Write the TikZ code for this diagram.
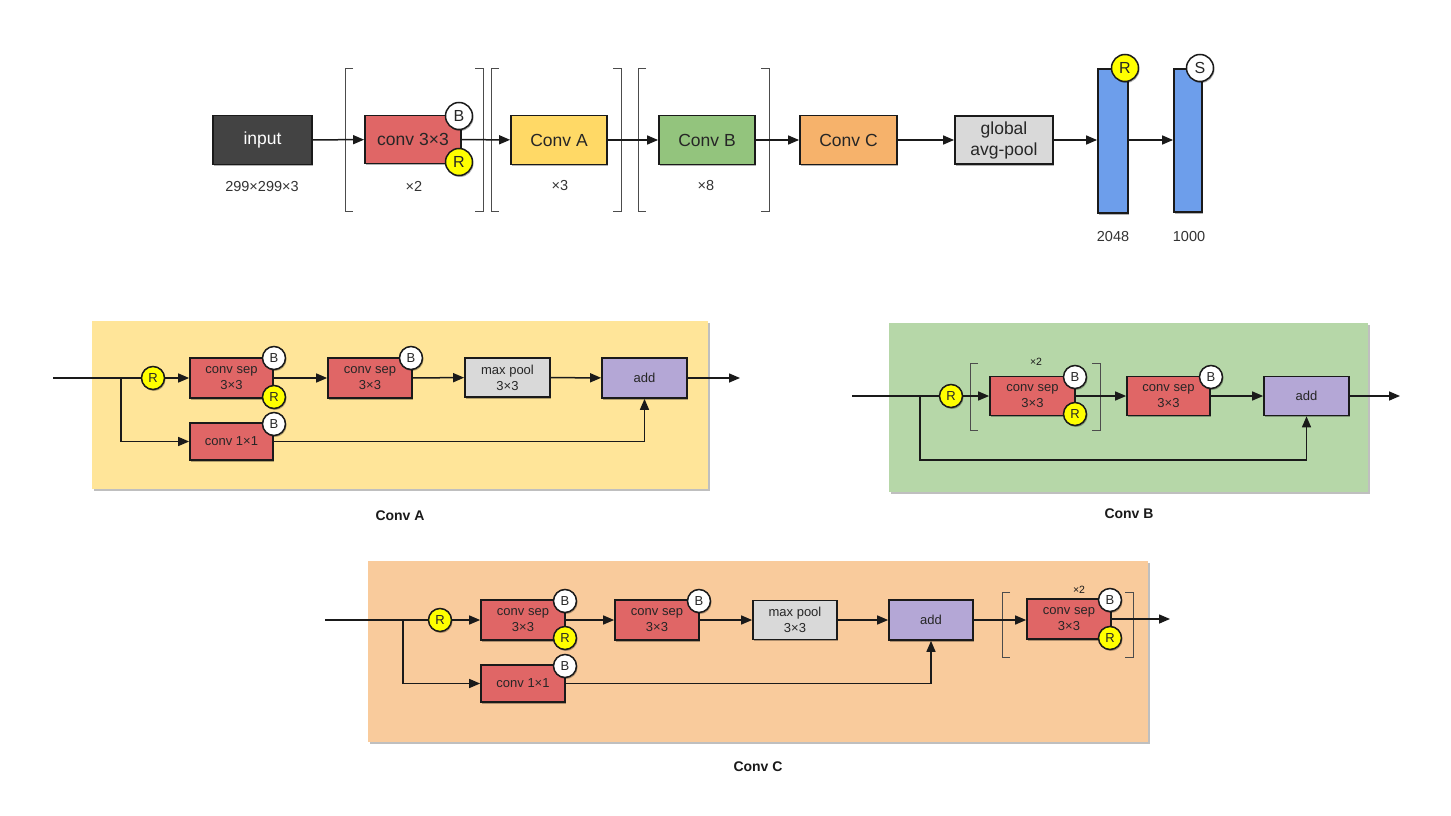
\documentclass[tikz,border=0pt]{standalone}
\usepackage{fontspec}
\setmainfont{Liberation Sans}
\usetikzlibrary{arrows.meta,shadows,calc}
\definecolor{cinput}{HTML}{434343}
\definecolor{cred}{HTML}{E06666}
\definecolor{cya}{HTML}{FFD966}
\definecolor{cgb}{HTML}{93C47D}
\definecolor{coc}{HTML}{F6B26B}
\definecolor{cgray}{HTML}{D9D9D9}
\definecolor{cblue}{HTML}{6D9EEB}
\definecolor{cpurp}{HTML}{B4A7D6}
\definecolor{cyel}{HTML}{FFFF00}
\definecolor{pA}{HTML}{FFE599}
\definecolor{pB}{HTML}{B6D7A8}
\definecolor{pC}{HTML}{F9CB9C}
\definecolor{ink}{HTML}{1A1A1A}
\definecolor{txt}{HTML}{262626}
\tikzset{
  shad/.style={drop shadow={shadow xshift=1pt, shadow yshift=-1.5pt, opacity=0.3, fill=black}},
  box/.style={draw=ink, line width=1.7pt, text=txt, align=center, inner sep=0pt,
     font=\fontsize{13}{16}\selectfont, shad},
  big/.style={box, line width=1.8pt, font=\fontsize{17.5}{21}\selectfont},
  circ/.style={circle, draw=ink, line width=1.5pt, inner sep=0pt, text=txt, shad},
  rc/.style={circ, fill=cyel},
  bc/.style={circ, fill=white},
  topc/.style={minimum size=27pt, font=\fontsize{16}{16}\selectfont},
  smc/.style={minimum size=23pt, font=\fontsize{13}{13}\selectfont},
  arr/.style={-{Triangle[length=11pt,width=9pt]}, line width=1.5pt, draw=ink},
  ln/.style={line width=1.5pt, draw=ink},
  brk/.style={draw=black!70, line width=0.9pt},
  lbl/.style={text=black!80, inner sep=0pt, font=\fontsize{14.5}{16}\selectfont},
  slbl/.style={text=ink, inner sep=0pt, font=\fontsize{10.5}{12}\selectfont},
  panel/.style={inner sep=0pt, drop shadow={shadow xshift=1.5pt, shadow yshift=-2pt, opacity=0.25, fill=black}},
  ttl/.style={text=ink, inner sep=0pt, font=\bfseries\fontsize{14}{16}\selectfont}
}
\begin{document}
\begin{tikzpicture}[x=1pt,y=-1pt]
\useasboundingbox (0,0) rectangle (1451,816);
\fill[white] (0,0) rectangle (1451,816);

% ---------------- top row ----------------
\node[big, fill=cinput, text=white, minimum width=99, minimum height=49] (input) at (262.5,140) {input};
\node[big, fill=cred, minimum width=96, minimum height=48] (conv3) at (413,139.5) {conv 3×3};
\node[big, fill=cya, minimum width=96, minimum height=49] (convA) at (559,140) {Conv A};
\node[big, fill=cgb, minimum width=96, minimum height=49] (convB) at (707,140) {Conv B};
\node[big, fill=coc, minimum width=97, minimum height=49] (convC) at (848.5,140) {Conv C};
\node[big, fill=cgray, minimum width=98, minimum height=48] (gap) at (1004,140) {global\\avg-pool};
\node[box, line width=1.8pt, fill=cblue, minimum width=30, minimum height=144] (fc1) at (1113,141) {};
\node[box, line width=1.8pt, fill=cblue, minimum width=28, minimum height=143] (fc2) at (1188,140.5) {};

\node[bc, topc] (c3B) at (459,116) {B};
\node[rc, topc] (c3R) at (459,162) {R};
\node[rc, topc] (fc1R) at (1125,68) {R};
\node[bc, topc] (fc2S) at (1200,68) {S};

\node[lbl] (lin) at (262,187) {299×299×3};
\node[lbl] (l2) at (414,186) {×2};
\node[lbl] (l3) at (560,186) {×3};
\node[lbl] (l8) at (706,186) {×8};
\node[lbl] (l2048) at (1113,237) {2048};
\node[lbl] (l1000) at (1189,237) {1000};

\draw[brk] (353,68) -- (345,68) -- (345,211) -- (353,211);
\draw[brk] (475,68) -- (483,68) -- (483,211) -- (475,211);
\draw[brk] (499,68) -- (491,68) -- (491,211) -- (499,211);
\draw[brk] (613,68) -- (621,68) -- (621,211) -- (613,211);
\draw[brk] (646,68) -- (638,68) -- (638,211) -- (646,211);
\draw[brk] (761,68) -- (769,68) -- (769,211) -- (761,211);

\draw[arr] (input) -- (conv3);
\draw[arr] (conv3) -- (convA);
\draw[arr] (convA) -- (convB);
\draw[arr] (convB) -- (convC);
\draw[arr] (convC) -- (gap);
\draw[arr] (gap.east) -- (gap.east -| fc1.west);
\draw[arr] (fc1.east |- gap.east) -- (fc2.west |- gap.east);

% ---------------- Conv A ----------------
\node[panel, fill=pA, minimum width=616, minimum height=168] (pa) at (400,405) {};
\node[ttl] (ta) at (400,516) {Conv A};
\coordinate (Ain) at (53,378);
\coordinate (Abr) at (121,378);
\coordinate (Aout) at (740,378);
\node[rc, smc] (Ar) at (153,378) {R};
\node[box, fill=cred, minimum width=83, minimum height=40] (As1) at (231.5,378) {conv sep\\3×3};
\node[box, fill=cred, minimum width=84, minimum height=40] (As2) at (370,378) {conv sep\\3×3};
\node[box, fill=cgray, minimum width=85, minimum height=39] (Amp) at (507.5,377.5) {max pool\\3×3};
\node[box, fill=cpurp, minimum width=85, minimum height=40] (Aadd) at (644.5,378) {add};
\node[box, fill=cred, minimum width=83, minimum height=37] (Ac1) at (231.5,441.5) {conv 1×1};
\draw[ln] (Ain) -- (Ar);
\draw[arr] (Ar) -- (As1);
\draw[arr] (As1) -- (As2);
\draw[arr] (As2) -- (Amp);
\draw[arr] (Amp) -- (Aadd);
\draw[arr] (Aadd) -- (Aout);
\draw[arr] (Abr) |- (Ac1);
\draw[arr] (Ac1) -| (Aadd);
\node[bc, smc] (As1B) at (274,358) {B};
\node[rc, smc] (As1R) at (274,397) {R};
\node[bc, smc] (As2B) at (411,358) {B};
\node[bc, smc] (Ac1B) at (274,424) {B};

% ---------------- Conv B ----------------
\node[panel, fill=pB, minimum width=479, minimum height=169] (pb) at (1128.5,407.5) {};
\node[ttl] (tb) at (1129,514) {Conv B};
\coordinate (Bin) at (852,396);
\coordinate (Bbr) at (920,396);
\coordinate (Bout) at (1400,396);
\node[rc, smc] (Br) at (951,396) {R};
\node[box, fill=cred, minimum width=85, minimum height=39] (Bs1) at (1032.5,396) {conv sep\\3×3};
\node[box, fill=cred, minimum width=83, minimum height=39] (Bs2) at (1168.5,396) {conv sep\\3×3};
\node[box, fill=cpurp, minimum width=85, minimum height=39] (Badd) at (1306.5,396) {add};
\coordinate (Bcorner) at (1306.5,460);
\draw[brk] (978,363) -- (970,363) -- (970,430) -- (978,430);
\draw[brk] (1092,363) -- (1100,363) -- (1100,430) -- (1092,430);
\node[slbl] (Bx2) at (1036,362) {×2};
\draw[ln] (Bin) -- (Br);
\draw[arr] (Br) -- (Bs1);
\draw[arr] (Bs1) -- (Bs2);
\draw[arr] (Bs2) -- (Badd);
\draw[arr] (Badd) -- (Bout);
\draw[arr] (Bbr) |- (Bcorner) -- (Badd.south);
\node[bc, smc] (Bs1B) at (1075,377) {B};
\node[rc, smc] (Bs1R) at (1075,414) {R};
\node[bc, smc] (Bs2B) at (1211,377) {B};

% ---------------- Conv C ----------------
\node[panel, fill=pC, minimum width=780, minimum height=181] (pc) at (758,651.5) {};
\node[ttl] (tc) at (758,767) {Conv C};
\coordinate (Cin) at (325,620);
\coordinate (Cbr) at (403,620);
\coordinate (Cout) at (1170,619);
\node[rc, smc] (Cr) at (440,620) {R};
\node[box, fill=cred, minimum width=84, minimum height=40] (Cs1) at (523,620) {conv sep\\3×3};
\node[box, fill=cred, minimum width=84, minimum height=40] (Cs2) at (657,620) {conv sep\\3×3};
\node[box, fill=cgray, minimum width=84, minimum height=39] (Cmp) at (795,620) {max pool\\3×3};
\node[box, fill=cpurp, minimum width=84, minimum height=40] (Cadd) at (931,620) {add};
\node[box, fill=cred, minimum width=84, minimum height=40] (Cs3) at (1069,619) {conv sep\\3×3};
\node[box, fill=cred, minimum width=84, minimum height=37] (Cc1) at (523,683.5) {conv 1×1};
\draw[brk] (1010,592) -- (1002,592) -- (1002,657) -- (1010,657);
\draw[brk] (1125,592) -- (1133,592) -- (1133,657) -- (1125,657);
\node[slbl] (Cx2) at (1079,590) {×2};
\draw[ln] (Cin) -- (Cr);
\draw[arr] (Cr) -- (Cs1);
\draw[arr] (Cs1) -- (Cs2);
\draw[arr] (Cs2) -- (Cmp);
\draw[arr] (Cmp) -- (Cadd);
\draw[arr] (Cadd.east) -- (Cadd.east -| Cs3.west);
\draw[arr] (Cs3) -- (Cout);
\draw[arr] (Cbr) |- (Cc1);
\draw[arr] (Cc1) -| (Cadd);
\node[bc, smc] (Cs1B) at (565,601) {B};
\node[rc, smc] (Cs1R) at (565,638) {R};
\node[bc, smc] (Cs2B) at (699,601) {B};
\node[bc, smc] (Cc1B) at (565,666) {B};
\node[bc, smc] (Cs3B) at (1110,600) {B};
\node[rc, smc] (Cs3R) at (1110,638) {R};
\end{tikzpicture}
\end{document}
